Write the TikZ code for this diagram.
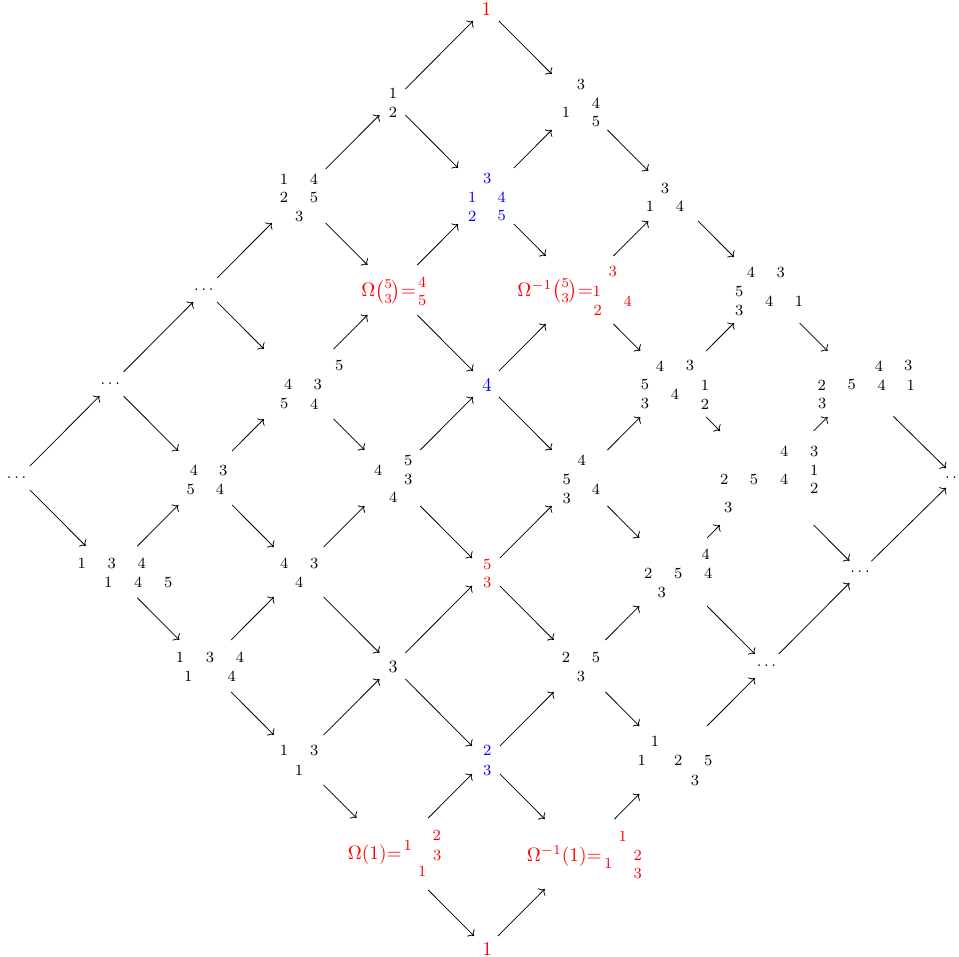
\documentclass[tikz,border=0pt]{standalone}
\usepackage{amsmath}
\usetikzlibrary{cd}
\setlength{\unitlength}{0.515pt}
\newcommand\dd[3]{\put(#1,#2){\makebox(0,0){#3}}}
\newcommand\sd[3]{\put(#1,#2){\makebox(0,0){\footnotesize #3}}}
\newcommand\ddr[3]{\put(#1,#2){\makebox(0,0)[r]{#3}}}
\newcommand\mpic[1]{\begin{picture}(0,0)#1\end{picture}}
\begin{document}
\begin{tikzpicture}[x=0.515pt, y=-0.515pt, >={cm to},
  mod/.style={rectangle, inner sep=0pt, outer sep=0pt, minimum size={#1*1.03pt}},
  hi/.style={text=red}, pr/.style={text=blue}]
\useasboundingbox (0,0) rectangle (959,957);
% row 0
\node[mod=13,hi] (n5x0) at (486,8) {\mpic{\dd{0.5}{-1}{1}}};
% row 1
\node[mod=13] (n4x1) at (392.4,102) {\mpic{\sd{0.6}{8.5}{1}\sd{0.6}{-10}{2}}};
\node[mod=28] (n6x1) at (579.6,102) {\mpic{\sd{1.4}{17}{3}\sd{16.4}{-1.3}{4}\sd{-13.6}{-10.5}{1}\sd{16.4}{-20}{5}}};
% row 2
\node[mod=27] (n3x2) at (298.8,196) {\mpic{\sd{-14.8}{16.7}{1}\sd{15.2}{16.7}{4}\sd{-14.8}{-1.7}{2}\sd{15.2}{-1.7}{5}\sd{0.5}{-20.7}{3}}};
\node[mod=28,pr] (n5x2) at (486,196) {\mpic{\sd{1.3}{17}{3}\sd{-13.7}{-1.7}{1}\sd{15.7}{-1.7}{4}\sd{-13.7}{-20}{2}\sd{15.7}{-20}{5}}};
\node[mod=25] (n7x2) at (673.2,196) {\mpic{\sd{-8.2}{7.7}{3}\sd{-23.2}{-10.7}{1}\sd{6.8}{-10.7}{4}}};
% row 3
\node[mod=12] (n2x3) at (205.2,290) {\mpic{\sd{0}{0}{$\cdots$}}};
\node[mod=25,hi] (n4x3) at (392.4,290) {\mpic{\ddr{23.6}{-1.5}{$\Omega\binom{5}{3}$=}\sd{29.9}{7.3}{4}\sd{29.9}{-10.7}{5}}};
\node[mod=34,hi] (n6x3) at (579.6,290) {\mpic{\ddr{13.4}{-1}{$\Omega^{-1}\binom{5}{3}$=}\sd{17.1}{-1}{1}\sd{33.1}{18.3}{3}\sd{18.1}{-20.7}{2}\sd{48.1}{-11}{4}}};
\node[mod=33] (n8x3) at (766.8,290) {\mpic{\sd{-15.8}{17.5}{4}\sd{13.9}{17.5}{3}\sd{-27.5}{-1.5}{5}\sd{-27.5}{-20}{3}\sd{2.4}{-11.5}{4}\sd{32.2}{-11.5}{1}}};
% row 4
\node[mod=12] (n1x4) at (111.6,384) {\mpic{\sd{0}{0}{$\cdots$}}};
\node[mod=35] (n3x4) at (298.8,384) {\mpic{\sd{40.5}{18.5}{5}\sd{-10.5}{-0.3}{4}\sd{18.9}{-0.3}{3}\sd{-14.5}{-20}{5}\sd{15.5}{-20}{4}}};
\node[mod=13,pr] (n5x4) at (486,384) {\mpic{\dd{1}{-1}{4}}};
\node[mod=33] (n7x4) at (673.2,384) {\mpic{\sd{-13.2}{18}{4}\sd{16.8}{18}{3}\sd{-28.2}{-1}{5}\sd{31.8}{-1}{1}\sd{-28.2}{-20}{3}\sd{31.8}{-20}{2}\sd{1.8}{-10}{4}}};
\node[mod=33] (n9x4) at (860.4,384) {\mpic{\sd{18.6}{18}{4}\sd{47.9}{18}{3}\sd{-38.7}{-1}{2}\sd{-8.7}{-1}{5}\sd{21.3}{-1}{4}\sd{50.3}{-1}{1}\sd{-38.1}{-20}{3}}};
% row 5
\node[mod=12] (n0x5) at (18,478) {\mpic{\sd{0}{0}{$\cdots$}}};
\node[mod=27] (n2x5) at (205.2,478) {\mpic{\sd{-11.2}{8}{4}\sd{18.1}{8}{3}\sd{-14.5}{-11}{5}\sd{14.8}{-11}{4}}};
\node[mod=28] (n4x5) at (392.4,478) {\mpic{\sd{15.9}{18}{5}\sd{-14.1}{7.3}{4}\sd{15.9}{-1.3}{3}\sd{0.9}{-19.3}{4}}};
\node[mod=28] (n6x5) at (579.6,478) {\mpic{\sd{2.1}{17.3}{4}\sd{-12.9}{-1.3}{5}\sd{16.4}{-11}{4}\sd{-12.9}{-20.3}{3}}};
\node[mod=47] (n8x5) at (766.8,478) {\mpic{\sd{17.5}{27}{4}\sd{47.5}{27}{3}\sd{47.5}{8}{1}\sd{47.5}{-10.3}{2}\sd{-42.5}{-1.3}{2}\sd{-12.8}{-1.3}{5}\sd{17.5}{-1.3}{4}\sd{-38.5}{-29}{3}}};
\node[mod=10] (n10x5) at (956,478) {\mpic{\sd{0}{0}{$\cdots$}}};
% row 6
\node[mod=26] (n1x6) at (111.6,572) {\mpic{\sd{-29.9}{8.7}{1}\sd{0.1}{8.7}{3}\sd{30.1}{8.7}{4}\sd{-3.3}{-10.3}{1}\sd{26.7}{-10.3}{4}\sd{56.7}{-10.3}{5}}};
\node[mod=25] (n3x6) at (298.8,572) {\mpic{\sd{-14.5}{8.7}{4}\sd{15.5}{8.7}{3}\sd{0.5}{-10.3}{4}}};
\node[mod=14,hi] (n5x6) at (486,572) {\mpic{\sd{1.3}{7.7}{5}\sd{1.3}{-10.3}{3}}};
\node[mod=34] (n7x6) at (673.2,572) {\mpic{\sd{32.5}{17.7}{4}\sd{-24.9}{-1.3}{2}\sd{5.1}{-1.3}{5}\sd{35.1}{-1.3}{4}\sd{-11.5}{-20.3}{3}}};
\node[mod=11] (n9x6) at (860.4,572) {\mpic{\sd{1}{0}{$\cdots$}}};
% row 7
\node[mod=26] (n2x7) at (205.2,666) {\mpic{\sd{-25.2}{8.3}{1}\sd{4.8}{8.3}{3}\sd{34.8}{8.3}{4}\sd{-16.9}{-10.7}{1}\sd{26.5}{-10.7}{4}}};
\node[mod=13] (n4x7) at (392.4,666) {\mpic{\dd{0.6}{-1}{\small 3}}};
\node[mod=26] (n6x7) at (579.6,666) {\mpic{\sd{-13.6}{8.7}{2}\sd{16.4}{8.7}{5}\sd{1.4}{-10}{3}}};
\node[mod=12] (n8x7) at (766.8,666) {\mpic{\sd{1}{0}{$\cdots$}}};
% row 8
\node[mod=25] (n3x8) at (298.8,760) {\mpic{\sd{-14.8}{9.5}{1}\sd{15.5}{9.5}{3}\sd{0.2}{-10}{1}}};
\node[mod=14,pr] (n5x8) at (486,760) {\mpic{\sd{1.3}{9.3}{2}\sd{1.3}{-10}{3}}};
\node[mod=34] (n7x8) at (673.2,760) {\mpic{\sd{-18.2}{18.3}{1}\sd{-31.5}{-0.7}{1}\sd{5.1}{-0.7}{2}\sd{35.1}{-0.7}{5}\sd{21.8}{-20}{3}}};
% row 9
\node[mod=36,hi] (n4x9) at (392.4,854) {\mpic{\ddr{9.3}{-1}{$\Omega(1)$=}\sd{15.3}{9}{1}\sd{44.3}{18.3}{2}\sd{44.9}{-1}{3}\sd{29.9}{-17.7}{1}}};
\node[mod=35,hi] (n6x9) at (579.6,854) {\mpic{\ddr{22.1}{-2}{$\Omega^{-1}(1)$=}\sd{28.7}{-9.3}{1}\sd{43.1}{18}{1}\sd{58.1}{-1}{2}\sd{58.1}{-19.3}{3}}};
% row 10
\node[mod=12,hi] (n5x10) at (486,948) {\mpic{\dd{1.3}{-1}{1}}};
% arrows
\foreach \a/\b in {0x5/1x4, 1x4/2x3, 1x6/2x5, 2x3/3x2, 2x5/3x4, 2x7/3x6,
  3x2/4x1, 3x4/4x3, 3x6/4x5, 3x8/4x7, 4x1/5x0, 4x3/5x2, 4x5/5x4, 4x7/5x6, 4x9/5x8,
  5x2/6x1, 5x4/6x3, 5x6/6x5, 5x8/6x7, 5x10/6x9, 6x3/7x2, 6x5/7x4, 6x7/7x6, 6x9/7x8,
  7x4/8x3, 7x6/8x5, 7x8/8x7, 8x5/9x4, 8x7/9x6, 9x6/10x5,
  0x5/1x6, 1x4/2x5, 1x6/2x7, 2x3/3x4, 2x5/3x6, 2x7/3x8,
  3x2/4x3, 3x4/4x5, 3x6/4x7, 3x8/4x9, 4x1/5x2, 4x3/5x4, 4x5/5x6, 4x7/5x8, 4x9/5x10,
  5x0/6x1, 5x2/6x3, 5x4/6x5, 5x6/6x7, 5x8/6x9, 6x1/7x2, 6x3/7x4, 6x5/7x6, 6x7/7x8,
  7x2/8x3, 7x4/8x5, 7x6/8x7, 8x3/9x4, 8x5/9x6, 9x4/10x5}
  \draw[->] (n\a) -- (n\b);
\end{tikzpicture}
\end{document}
